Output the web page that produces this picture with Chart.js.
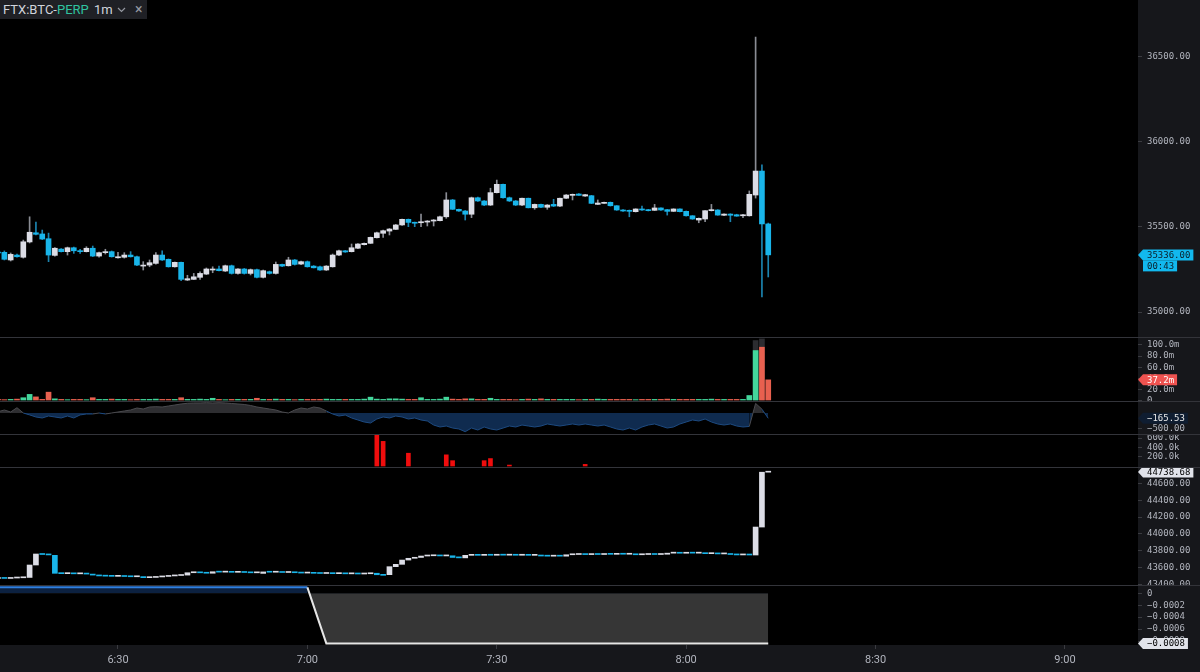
<!DOCTYPE html>
<html>
<head>
<meta charset="utf-8">
<title>FTX:BTC-PERP 1m</title>
<script src="https://cdn.jsdelivr.net/npm/chart.js@4.4.1/dist/chart.umd.min.js"></script>
<style>
  html, body { margin: 0; padding: 0; background: #000; }
  body { position: relative; width: 1200px; height: 672px; overflow: hidden; }
  canvas { position: absolute; left: 0; display: block; }
  .sep { position: absolute; left: 0; width: 1200px; height: 1px; background: #33343a; }
  #symbol { position: absolute; left: 0; top: 0; width: 147px; height: 19px; background: #1f2025;
            font: 13px Roboto, "Noto Sans", sans-serif; line-height: 19px; color: #d1d4dc; white-space: nowrap; }
  #symbol span, #symbol svg { position: absolute; top: 0; }
  #symbol .perp { color: #2fc4a0; }
  #symbol .close { color: #9598a1; font-size: 14px; }
</style>
</head>
<body>
<canvas id="pricePane" width="1200" height="337" style="top:0"></canvas>
<canvas id="volPane" width="1200" height="63" style="top:338px"></canvas>
<canvas id="deltaPane" width="1200" height="32" style="top:402px"></canvas>
<canvas id="liqPane" width="1200" height="32" style="top:435px"></canvas>
<canvas id="idxPane" width="1200" height="117" style="top:468px"></canvas>
<canvas id="fundPane" width="1200" height="86" style="top:586px"></canvas>

<div class="sep" style="top:337px"></div>
<div class="sep" style="top:401px"></div>
<div class="sep" style="top:434px"></div>
<div class="sep" style="top:467px"></div>
<div class="sep" style="top:585px"></div>

<div id="symbol">
  <span style="left:3px">FTX:BTC-<span class="perp" style="position:static">PERP</span></span>
  <span style="left:94px">1m</span>
  <svg style="left:117px;top:7px" width="9" height="6" viewBox="0 0 9 6"><polyline points="1,1 4.5,4.5 8,1" fill="none" stroke="#9598a1" stroke-width="1.2"/></svg>
  <span class="close" style="left:135px">×</span>
</div>

<script>
// first candle is 6:11, one candle per minute
const FIRST_MIN = 371;

// BTC-PERP 1m candles
const pOpen = [
  35353, 35351, 35306, 35335, 35322, 35412, 35466, 35459, 35431, 35333,
  35370, 35355, 35378, 35360, 35355, 35375, 35329, 35349, 35355, 35319,
  35322, 35335, 35325, 35270, 35276, 35286, 35335, 35310, 35266, 35292,
  35188, 35192, 35204, 35223, 35247, 35253, 35241, 35272, 35227, 35253,
  35227, 35249, 35204, 35237, 35227, 35280, 35272, 35306, 35282, 35296,
  35270, 35266, 35247, 35266, 35335, 35360, 35355, 35375, 35396, 35404,
  35437, 35463, 35476, 35486, 35512, 35545, 35527, 35525, 35529, 35535,
  35537, 35560, 35659, 35604, 35594, 35575, 35672, 35653, 35629, 35702,
  35751, 35672, 35653, 35629, 35669, 35613, 35633, 35616, 35633, 35623,
  35669, 35686, 35694, 35682, 35684, 35633, 35639, 35645, 35625, 35600,
  35598, 35590, 35606, 35602, 35598, 35612, 35602, 35592, 35606, 35592,
  35566, 35541, 35547, 35596, 35600, 35569, 35576, 35572, 35566, 35566,
  35688, 35829, 35518
];
const pHigh = [
  35370, 35359, 35347, 35341, 35423, 35560, 35529, 35482, 35464, 35379,
  35373, 35382, 35382, 35369, 35384, 35388, 35353, 35369, 35359, 35351,
  35349, 35355, 35329, 35296, 35306, 35349, 35360, 35312, 35294, 35294,
  35216, 35227, 35237, 35259, 35266, 35270, 35276, 35276, 35256, 35256,
  35253, 35253, 35247, 35241, 35294, 35282, 35322, 35309, 35300, 35300,
  35273, 35270, 35273, 35341, 35364, 35362, 35400, 35403, 35406, 35441,
  35470, 35482, 35491, 35515, 35547, 35547, 35529, 35576, 35538, 35544,
  35564, 35702, 35662, 35606, 35597, 35676, 35676, 35656, 35728, 35776,
  35753, 35676, 35656, 35670, 35670, 35635, 35635, 35632, 35663, 35670,
  35691, 35694, 35697, 35692, 35686, 35659, 35647, 35647, 35626, 35602,
  35600, 35607, 35623, 35604, 35633, 35613, 35604, 35607, 35607, 35594,
  35567, 35553, 35597, 35633, 35602, 35578, 35578, 35575, 35575, 35712,
  36617, 35865, 35523
];
const pLow = [
  35341, 35306, 35300, 35323, 35317, 35406, 35453, 35426, 35296, 35329,
  35353, 35335, 35345, 35345, 35353, 35326, 35323, 35341, 35323, 35316,
  35317, 35323, 35273, 35247, 35266, 35282, 35303, 35264, 35264, 35184,
  35185, 35191, 35192, 35220, 35231, 35241, 35238, 35223, 35223, 35223,
  35218, 35200, 35200, 35223, 35223, 35267, 35270, 35276, 35279, 35264,
  35259, 35244, 35244, 35264, 35332, 35351, 35353, 35373, 35394, 35403,
  35435, 35439, 35453, 35485, 35509, 35502, 35502, 35502, 35506, 35506,
  35535, 35551, 35603, 35591, 35541, 35555, 35650, 35626, 35626, 35700,
  35670, 35650, 35626, 35626, 35612, 35604, 35614, 35604, 35620, 35620,
  35667, 35659, 35685, 35680, 35637, 35632, 35638, 35623, 35598, 35592,
  35560, 35588, 35598, 35594, 35597, 35598, 35570, 35591, 35588, 35564,
  35545, 35525, 35531, 35594, 35569, 35567, 35531, 35563, 35555, 35564,
  35670, 35088, 35206
];
const pClose = [
  35347, 35310, 35339, 35325, 35413, 35469, 35457, 35429, 35335, 35375,
  35355, 35378, 35360, 35355, 35375, 35329, 35349, 35355, 35325, 35325,
  35335, 35325, 35276, 35276, 35290, 35335, 35306, 35266, 35292, 35192,
  35196, 35207, 35227, 35253, 35253, 35243, 35272, 35227, 35253, 35227,
  35249, 35204, 35243, 35227, 35280, 35270, 35306, 35280, 35296, 35266,
  35260, 35247, 35270, 35335, 35360, 35353, 35378, 35400, 35404, 35439,
  35466, 35478, 35488, 35512, 35545, 35527, 35522, 35531, 35535, 35541,
  35560, 35659, 35604, 35594, 35575, 35672, 35653, 35629, 35702, 35751,
  35672, 35653, 35629, 35669, 35613, 35633, 35616, 35629, 35623, 35669,
  35688, 35692, 35686, 35690, 35639, 35641, 35645, 35625, 35600, 35594,
  35592, 35606, 35600, 35596, 35612, 35600, 35592, 35606, 35590, 35566,
  35547, 35551, 35596, 35602, 35570, 35576, 35569, 35564, 35572, 35692,
  35829, 35518, 35336
];

// volume, millions
const vol = [
  2, 1.5, 2, 2.5, 5, 11, 6.5, 2, 15, 3,
  2, 1.5, 2, 2, 1.5, 5, 2, 2, 2.5, 2,
  2, 1.5, 2, 2, 2, 2.5, 2, 2, 2, 5,
  2, 2, 2.5, 2, 4, 2, 1.5, 2, 2, 2,
  2, 4, 2, 2, 2.5, 2, 2, 1.5, 2, 2,
  2, 2, 2.5, 2, 2, 2, 2, 2, 2.5, 6,
  2.5, 2, 3, 3, 2.5, 2, 2, 5, 2, 2,
  2.5, 6, 2.5, 2, 3, 3, 2, 2, 4, 2,
  2, 2, 1.5, 2, 2.5, 2, 3, 2, 2, 2,
  2, 2, 1.5, 2, 2, 2.5, 2, 2, 2, 2,
  2, 1.5, 2, 2, 2, 2, 2.5, 2, 2, 2,
  2, 2, 2, 2.5, 2, 2, 2, 2, 2, 9,
  90, 96, 37.2
];
const volGhostTimes = [491, 492];
const volGhostVals = [108, 111];

// delta oscillator
const delta = [
  40, 94, 31, 166, 0, -60, -125, -156, -94, -125,
  -156, -94, -156, -60, -31, -31, 0, -31, 0, 31,
  63, 94, 156, 125, 188, 197, 188, 219, 250, 282,
  304, 313, 313, 322, 313, 322, 313, 297, 282, 266,
  235, 188, 156, 125, 94, 31, 0, 94, 156, 125,
  188, 156, 63, -31, -94, -63, -156, -219, -282, -313,
  -188, -125, -156, -94, -125, -188, -156, -219, -250, -376,
  -438, -407, -470, -500, -585, -470, -532, -438, -500, -532,
  -470, -407, -438, -376, -407, -438, -407, -344, -376, -407,
  -376, -344, -376, -344, -376, -407, -376, -438, -500, -532,
  -470, -532, -438, -376, -344, -407, -470, -438, -344, -282,
  -219, -250, -188, -282, -344, -376, -344, -407, -438, -420,
  300, 120, -165.53
];

// liquidations, thousands
const liqTimes = [431, 432, 436, 442, 443, 448, 449, 452, 464];
const liqVals = [680, 530, 275, 240, 115, 115, 160, 20, 35];

// second candle series
const bOpen = [
  43469, 43472, 43470, 43475, 43478, 43482, 43630, 43761, 43757, 43745,
  43531, 43527, 43529, 43525, 43527, 43522, 43510, 43500, 43497, 43495,
  43498, 43493, 43490, 43492, 43479, 43482, 43488, 43494, 43500, 43505,
  43510, 43538, 43542, 43537, 43532, 43550, 43545, 43548, 43543, 43546,
  43541, 43537, 43530, 43548, 43544, 43546, 43541, 43543, 43538, 43534,
  43536, 43531, 43529, 43531, 43527, 43529, 43525, 43527, 43523, 43526,
  43532, 43518, 43515, 43610, 43638, 43689, 43710, 43720, 43737, 43740,
  43742, 43738, 43740, 43722, 43715, 43745, 43748, 43745, 43749, 43746,
  43750, 43747, 43750, 43746, 43749, 43745, 43748, 43737, 43735, 43738,
  43735, 43752, 43755, 43757, 43754, 43758, 43755, 43759, 43757, 43760,
  43758, 43761, 43752, 43755, 43758, 43755, 43758, 43771, 43773, 43770,
  43774, 43771, 43773, 43765, 43768, 43762, 43765, 43755, 43750, 43752,
  43749, 44082, 44735
];
const bClose = [
  43472, 43470, 43475, 43478, 43482, 43630, 43761, 43755, 43750, 43531,
  43527, 43529, 43525, 43527, 43522, 43510, 43500, 43497, 43495, 43498,
  43493, 43490, 43492, 43479, 43482, 43488, 43494, 43500, 43505, 43510,
  43538, 43542, 43537, 43532, 43550, 43545, 43548, 43543, 43546, 43541,
  43537, 43540, 43548, 43544, 43546, 43541, 43543, 43538, 43534, 43536,
  43531, 43529, 43531, 43527, 43529, 43525, 43527, 43523, 43526, 43529,
  43514, 43507, 43610, 43638, 43689, 43710, 43720, 43737, 43740, 43742,
  43738, 43740, 43720, 43715, 43745, 43748, 43745, 43749, 43746, 43750,
  43747, 43750, 43746, 43749, 43745, 43748, 43737, 43735, 43738, 43735,
  43752, 43755, 43757, 43754, 43758, 43755, 43759, 43757, 43760, 43758,
  43761, 43752, 43755, 43758, 43755, 43758, 43771, 43773, 43770, 43774,
  43771, 43773, 43765, 43768, 43762, 43765, 43755, 43750, 43752, 43749,
  44082, 44735, 44738.68
];

// funding rate
const fundTimes = [371, 420, 423, 493];
const fundVals = [0.0001, 0.0001, -0.00084, -0.00084];

// tick labels
const timeTicks = [390, 420, 450, 480, 510, 540];
const priceTicks = [35000, 35500, 36000, 36500];
const volTicks = [0, 20, 40, 60, 80, 100];
const deltaTicks = [-500];
const liqTicks = [200, 400, 600];
const idxTicks = [43400, 43600, 43800, 44000, 44200, 44400, 44600];
const fundTicks = [0, -0.0002, -0.0004, -0.0006, -0.0008];


const AXIS_BG = '#16171b';
const TEXT = '#b2b5be';
const MONO = '"DejaVu Sans Mono", "Liberation Mono", monospace';
const UP = '#dcdde6', DOWN = '#19b5ea';
const UP_WICK = '#8a8c94', DOWN_WICK = '#1b84b0';
const X_MIN = 371.31, X_MAX = 551.57;

Chart.defaults.font.family = MONO;

const minus = s => s.replace('-', '\u2212');

function fmtTime(m) {
  return Math.floor(m / 60) + ':' + String(m % 60).padStart(2, '0');
}

// no label overhang padding, so every pane fills its canvas
function noPad(s) {
  s.paddingTop = 0; s.paddingBottom = 0; s.paddingLeft = 0; s.paddingRight = 0;
}

function xScale(show) {
  return {
    type: 'linear', min: X_MIN, max: X_MAX, offset: false, display: show,
    afterBuildTicks: s => { s.ticks = timeTicks.map(v => ({ value: v })); },
    afterFit: s => { s.height = show ? 27 : 0; noPad(s); },
    grid: { drawOnChartArea: false, drawTicks: true, tickLength: 4, color: '#3a3b40' },
    border: { display: false },
    ticks: {
      color: TEXT, font: { family: 'Roboto', size: 11 }, padding: 5,
      maxRotation: 0, autoSkip: false, callback: v => fmtTime(v)
    }
  };
}

function yScale(min, max, tickList, fmt) {
  return {
    position: 'right', min: min, max: max,
    afterBuildTicks: s => { s.ticks = tickList.map(v => ({ value: v })); },
    afterFit: s => { s.width = 62; noPad(s); },
    grid: { drawOnChartArea: false, drawTicks: true, tickLength: 4, color: '#3a3b40' },
    border: { display: false },
    ticks: { color: TEXT, font: { size: 9 }, padding: 5, autoSkip: false, callback: v => fmt(v) }
  };
}

// black plot area, grey axis strips
const bgPlugin = {
  id: 'bg',
  beforeDraw(chart) {
    const { ctx, chartArea: a, width, height } = chart;
    ctx.save();
    ctx.fillStyle = '#000';
    ctx.fillRect(0, 0, width, height);
    ctx.fillStyle = AXIS_BG;
    ctx.fillRect(a.right, 0, width - a.right, height);
    if (a.bottom < height) ctx.fillRect(0, a.bottom, width, height - a.bottom);
    ctx.restore();
  }
};

function drawTag(ctx, y, text, bg, fg, sub) {
  const bx = 1143, h = 11;
  ctx.save();
  ctx.font = '9px ' + MONO;
  ctx.textBaseline = 'middle';
  const w = ctx.measureText(text).width + 7;
  ctx.fillStyle = bg;
  ctx.beginPath();
  ctx.moveTo(bx - 5, y);
  ctx.lineTo(bx, y - h / 2);
  ctx.lineTo(bx + w, y - h / 2);
  ctx.lineTo(bx + w, y + h / 2);
  ctx.lineTo(bx, y + h / 2);
  ctx.closePath();
  ctx.fill();
  if (sub) {
    const w2 = ctx.measureText(sub).width + 7;
    ctx.fillRect(bx, y + h / 2, w2, h);
  }
  ctx.fillStyle = fg;
  ctx.fillText(text, bx + 4, y + 0.5);
  if (sub) ctx.fillText(sub, bx + 4, y + h + 0.5);
  ctx.restore();
}

function tagPlugin(tags) {
  return {
    id: 'tags',
    afterDraw(chart) {
      const ys = chart.scales.y;
      tags.forEach(t => drawTag(chart.ctx, ys.getPixelForValue(t.value), t.text, t.bg, t.fg, t.sub));
    }
  };
}

function bodies(open, close) {
  return {
    data: open.map((o, i) => ({ x: FIRST_MIN + i, y: [o, close[i]] })),
    backgroundColor: open.map((o, i) => close[i] >= o ? UP : DOWN),
    barThickness: 5, minBarLength: 1, grouped: false
  };
}

function wicks(open, close, low, high) {
  return {
    data: low.map((l, i) => ({ x: FIRST_MIN + i, y: [l, high[i]] })),
    backgroundColor: open.map((o, i) => close[i] >= o ? UP_WICK : DOWN_WICK),
    barThickness: 1, grouped: false
  };
}

function makeChart(id, type, datasets, scales, plugins) {
  return new Chart(document.getElementById(id), {
    type: type,
    data: { datasets: datasets },
    options: {
      responsive: false, animation: false, events: [],
      layout: { padding: 0 },
      plugins: { legend: { display: false }, tooltip: { enabled: false } },
      scales: scales
    },
    plugins: [bgPlugin].concat(plugins || [])
  });
}

const last = arr => arr[arr.length - 1];

// price
makeChart('pricePane', 'bar',
  [bodies(pOpen, pClose), wicks(pOpen, pClose, pLow, pHigh)],
  { x: xScale(false), y: yScale(34853, 36835, priceTicks, v => v.toFixed(2)) },
  [tagPlugin([{ value: last(pClose), text: last(pClose).toFixed(2), sub: '00:43', bg: '#12b8ee', fg: '#0b1f2a' }])]
);

// volume
makeChart('volPane', 'bar',
  [
    {
      data: vol.map((v, i) => ({ x: FIRST_MIN + i, y: v })),
      backgroundColor: pOpen.map((o, i) => pClose[i] >= o ? '#43d69b' : '#e8604f'),
      barThickness: 5, grouped: false
    },
    {
      data: volGhostTimes.map((t, i) => ({ x: t, y: volGhostVals[i] })),
      backgroundColor: '#2c2c30', barThickness: 5, grouped: false
    }
  ],
  { x: xScale(false), y: yScale(-0.9, 112.6, volTicks, v => v === 0 ? '0' : v.toFixed(1) + 'm') },
  [tagPlugin([{ value: last(vol), text: last(vol).toFixed(1) + 'm', bg: '#ef5350', fg: '#ffffff' }])]
);

// delta
makeChart('deltaPane', 'line',
  [{
    data: delta.map((v, i) => ({ x: FIRST_MIN + i, y: v })),
    borderWidth: 1, pointRadius: 0, tension: 0,
    segment: { borderColor: c => c.p1.parsed.y >= 0 ? '#4a4a4e' : '#1d4a80' },
    fill: { target: 'origin', above: '#2e2e31', below: '#0f2b4f' }
  }],
  { x: xScale(false), y: yScale(-657, 344, deltaTicks, v => minus(v.toFixed(2))) },
  [tagPlugin([{ value: last(delta), text: minus(last(delta).toFixed(2)), bg: '#0f1d31', fg: '#e8e8e8' }])]
);

// liquidations
makeChart('liqPane', 'bar',
  [{
    data: liqTimes.map((t, i) => ({ x: t, y: liqVals[i] })),
    backgroundColor: '#f00d0d', barThickness: 4
  }],
  { x: xScale(false), y: yScale(-21.5, 667, liqTicks, v => v.toFixed(1) + 'k') }
);

// second candle series
makeChart('idxPane', 'bar',
  [bodies(bOpen, bClose)],
  { x: xScale(false), y: yScale(43392, 44785, idxTicks, v => v.toFixed(2)) },
  [tagPlugin([{ value: last(bClose), text: last(bClose).toFixed(2), bg: '#e1e3ea', fg: '#000000' }])]
);

// funding
makeChart('fundPane', 'line',
  [{
    data: fundTimes.map((t, i) => ({ x: t, y: fundVals[i] })),
    borderWidth: 2, pointRadius: 0, tension: 0,
    segment: { borderColor: c => c.p1.parsed.y >= 0 ? '#2f7fe0' : '#e6e6e6' },
    fill: { target: 'origin', above: '#0c2140', below: '#363636' }
  }],
  { x: xScale(true), y: yScale(-0.000867, 0.0001225, fundTicks, v => v === 0 ? '0' : minus(v.toFixed(4))) },
  [tagPlugin([{ value: last(fundVals), text: minus(last(fundVals).toFixed(4)), bg: '#e1e3ea', fg: '#000000' }])]
);
</script>
</body>
</html>
